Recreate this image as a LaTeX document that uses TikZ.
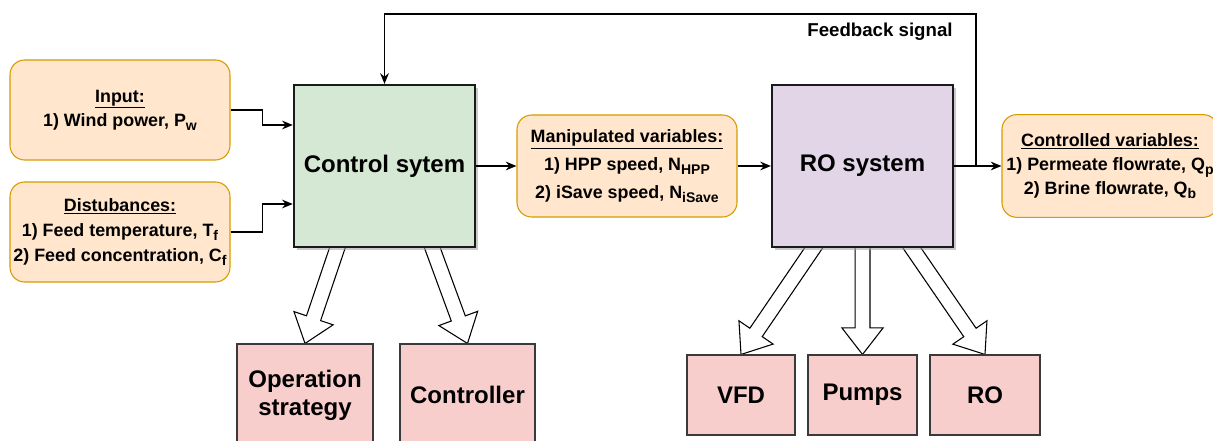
\documentclass[tikz,border=0pt]{standalone}
\usepackage{fontspec}
\setmainfont{Liberation Sans}
\usetikzlibrary{arrows.meta,calc,shadows,backgrounds}

\definecolor{peachfill}{HTML}{FFE6CC}
\definecolor{peachline}{HTML}{D79B00}
\definecolor{greenfill}{HTML}{D5E8D4}
\definecolor{lilacfill}{HTML}{E1D5E7}
\definecolor{rosefill}{HTML}{F8CECC}
\definecolor{boxline}{HTML}{1A1A1A}
\definecolor{subline}{HTML}{3A3A3A}

% lowered index used in the variable names
\newcommand{\lowidx}[1]{\raisebox{-0.45ex}{\fontsize{10.5}{10.5}\selectfont #1}}

% hollow block arrow from #1 to the tip #2
\newcommand{\hollowarrow}[2]{%
  \coordinate (hb) at ($(#2)!20pt!(#1)$);
  \draw[fatarrow]
    ($(#1)!5.6pt!90:(#2)$) -- ($(hb)!5.6pt!90:(#2)$) -- ($(hb)!15.5pt!90:(#2)$)
    -- (#2)
    -- ($(hb)!15.5pt!-90:(#2)$) -- ($(hb)!5.6pt!-90:(#2)$) -- ($(#1)!5.6pt!-90:(#2)$)
    -- cycle;}

\tikzset{
  varbox/.style={draw=peachline, fill=peachfill, line width=0.8pt, rounded corners=11pt,
    align=center, inner sep=1pt, font=\fontsize{13.4}{18}\selectfont\bfseries},
  sysbox/.style={draw=boxline, line width=1.6pt, align=center,
    font=\fontsize{18}{22}\selectfont\bfseries,
    drop shadow={shadow xshift=2.2pt, shadow yshift=-2.2pt, fill=black!35, opacity=0.6},
    minimum width=136pt, minimum height=121.5pt},
  partbox/.style={draw=subline, fill=rosefill, line width=0.8pt, align=center,
    font=\fontsize{18}{21}\selectfont\bfseries, minimum height=60pt},
  signal/.style={draw=black, line width=1.1pt, -{Stealth[length=8pt,width=6.5pt]}},
  fatarrow/.style={draw=black, fill=white, line width=0.8pt, line join=miter}
}

\begin{document}
\begin{tikzpicture}[x=0.75pt, y=-0.75pt]
\useasboundingbox (0,0) rectangle (1213,441);

% main blocks
\node[sysbox, fill=greenfill] (cs) at (384.5,166) {Control sytem};
\node[sysbox, fill=lilacfill, minimum width=135.75pt] (ro) at (862.5,166) {RO system};

% signal boxes
\node[varbox, minimum width=165pt, minimum height=75pt] (inp) at (120,110)
  {\underline{Input:}\\1) Wind power, P\lowidx{w}};
\node[varbox, minimum width=165pt, minimum height=75pt, font=\fontsize{13.4}{19}\selectfont\bfseries] (dist) at (120,232)
  {\underline{Distubances:}\\1) Feed temperature, T\lowidx{f}\\2) Feed concentration, C\lowidx{f}};
\node[varbox, minimum width=165pt, minimum height=76.5pt, font=\fontsize{13.4}{21}\selectfont\bfseries] (mv) at (627,166)
  {\underline{Manipulated variables:}\\1) HPP speed, N\lowidx{HPP}\\2) iSave speed, N\lowidx{iSave}};
\node[varbox, minimum width=162pt, minimum height=77pt] (cv) at (1110,166)
  {\underline{Controlled variables:}\\1) Permeate flowrate, Q\lowidx{p}\\2) Brine flowrate, Q\lowidx{b}};

% sub-components
\node[partbox, minimum width=102pt, minimum height=76.5pt] (os) at (305,395) {Operation\\strategy};
\node[partbox, minimum width=101.25pt, minimum height=76.5pt] (ctl) at (467.5,395) {Controller};
\node[partbox, minimum width=81pt] (vfd) at (741,395) {VFD};
\node[partbox, minimum width=81.75pt] (pumps) at (862.5,395) {Pumps};
\node[partbox, minimum width=82.5pt] (rou) at (985,395) {RO};

% signal flow
\draw[signal] (inp.east) -- ++(32,0) |- ($(cs.west)+(0,-41)$);
\draw[signal] (dist.east) -- ++(32,0) |- ($(cs.west)+(0,38)$);
\draw[signal] (cs.east) -- (mv.west);
\draw[signal] (mv.west -| mv.east) -- (ro.west);
\draw[signal] (ro.east) -- (cv.west);

% feedback loop
\coordinate (fb) at ($(ro.east)+(22,0)$);
\draw[signal] (fb) -- ++(0,-152) -| (cs.north);
\node[font=\fontsize{14}{16}\selectfont\bfseries, inner sep=0pt] (fblabel) at (880,32) {Feedback signal};

% hollow arrows to the sub-components
\coordinate (s1) at ($(cs.south)+(-44.5,-8)$);
\coordinate (s2) at ($(cs.south)+(45,-8)$);
\coordinate (s3) at ($(ro.south)+(-43.5,-8)$);
\coordinate (s4) at ($(ro.south)+(0,-8)$);
\coordinate (s5) at ($(ro.south)+(44,-8)$);
\begin{scope}[on background layer]
  \fill[white] (0,0) rectangle (1213,441);
  \hollowarrow{s1}{os.north}
  \hollowarrow{s2}{ctl.north}
  \hollowarrow{s3}{vfd.north}
  \hollowarrow{s4}{pumps.north}
  \hollowarrow{s5}{rou.north}
\end{scope}
\end{tikzpicture}
\end{document}
